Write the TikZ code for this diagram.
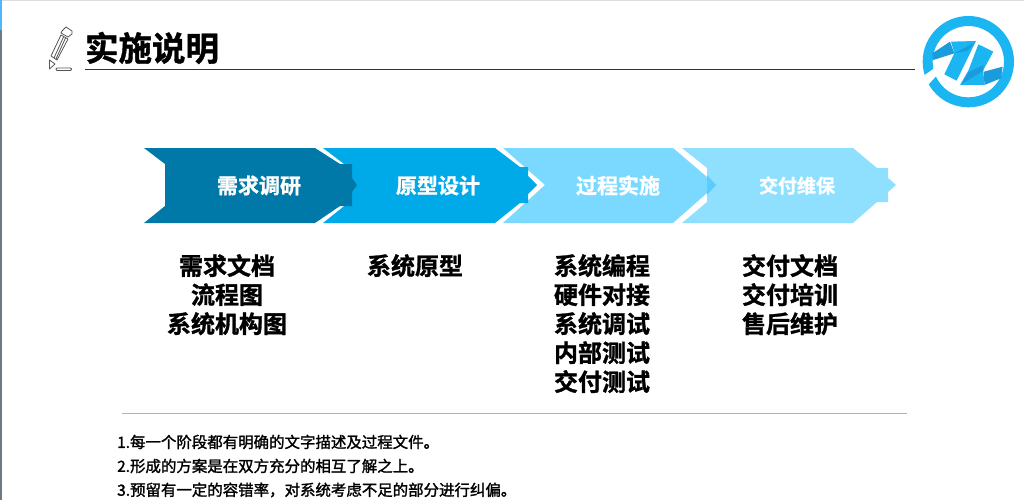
\documentclass[tikz,border=0pt]{standalone}
\usepackage{fontspec}
\setmainfont{Noto Sans CJK SC}
\newfontfamily\heavy{Noto Sans CJK SC Bold}[FakeBold=1.2]
\newfontfamily\notefont{Noto Sans CJK SC}[FakeBold=1.6]
\definecolor{aone}{HTML}{0079A8}
\definecolor{atwo}{HTML}{00A9E8}
\definecolor{athree}{HTML}{7BD9FF}
\definecolor{afour}{HTML}{8FE0FF}
\definecolor{atip}{HTML}{5CCCFF}
\definecolor{logoblue}{HTML}{1BB5F2}
\definecolor{logodark}{HTML}{1A9BDC}
\definecolor{penc}{HTML}{555555}
\definecolor{stripblue}{HTML}{4DB8FF}
\definecolor{stripgrey}{HTML}{707888}
\tikzset{
  head/.style={font=\heavy\fontsize{21}{21}\selectfont,text=white,inner sep=0pt,anchor=center},
  item/.style={font=\heavy\fontsize{24}{29}\selectfont,text=black,inner sep=0pt,anchor=north,align=center},
  note/.style={font=\notefont\fontsize{15.45}{15.45}\selectfont,text=black,inner sep=0pt,anchor=west},
  penline/.style={draw=penc,line width=0.8pt,line join=round}
}
\begin{document}
\begin{tikzpicture}[x=1pt,y=-1pt]
\useasboundingbox (0,0) rectangle (1024,500);
\fill[white] (0,0) rectangle (1024,500);
% window edges
\fill[black!13] (2,0) rectangle (1024,1.2);
\fill[stripblue] (0,0) rectangle (2,30);
\fill[stripgrey] (0,30) rectangle (2,500);
% pencil
\draw[penline] (62,31) -- (66,27) -- (72,31) -- (72,34) -- (68,37) -- (61,33) -- cycle;
\draw[penline] (61,35) -- (51,56) -- (57,60) -- (68,39) -- cycle;
\draw[penline] (63.5,37) -- (54,58);
\draw[penline] (65.5,38) -- (56,59);
\draw[penline] (49.5,60) -- (55,64) -- (49.5,69) -- cycle;
\draw[penline,rounded corners=1pt] (56,68) rectangle (71.5,70.5);
% title
\node[font=\heavy\fontsize{33.5}{33.5}\selectfont,inner sep=0pt] (title) at (152,48) {实施说明};
\draw[draw=black!80,line width=1pt] (85,70) -- (915,70);
% logo
\begin{scope}[shift={(915,10)},x=0.3333pt,y=-0.3333pt]
\fill[logoblue,even odd rule] (160,155) circle[radius=137] (160,155) circle[radius=107];
\fill[white] (26,197) -- (62,172) -- (85,190) -- (62,200) -- (42,222) -- (10,240) -- (5,212) -- cycle;
\fill[logodark] (52,130) -- (105,95) -- (118,130) -- (55,150) -- cycle;
\fill[logoblue] (108,95) -- (183,93) -- (125,212) -- (88,193) -- (118,130) -- cycle;
\fill[logodark] (118,130) -- (180,97) -- (158,122) -- cycle;
\fill[logoblue] (190,103) -- (235,125) -- (205,180) -- (208,225) -- (135,225) -- (160,182) -- cycle;
\fill[logodark] (140,222) -- (160,187) -- (205,165) -- (205,182) -- cycle;
\fill[logodark] (207,185) -- (263,170) -- (258,205) -- (208,225) -- cycle;
\end{scope}
% chevrons
\fill[afour] (682,148) -- (853,148) -- (877,168) -- (888,168) -- (888,178) -- (896,185) -- (888,192) -- (888,202) -- (877,202) -- (853,223) -- (682,223) -- (707,202) -- (707,168) -- cycle;
\fill[athree] (503,148) -- (673,148) -- (707,177) -- (707,193) -- (673,223) -- (503,223) -- (545,185) -- cycle;
\fill[atip] (707,175) -- (716,185) -- (707,195) -- cycle;
\fill[atwo] (323,148) -- (495,148) -- (520,167) -- (528,167) -- (528,176) -- (537,185) -- (528,194) -- (528,203) -- (520,203) -- (495,223) -- (323,223) -- (348,203) -- (348,167) -- cycle;
\fill[aone] (144,148) -- (315,148) -- (340,164) -- (352,164) -- (352,178) -- (357,185) -- (352,192) -- (352,206) -- (340,206) -- (315,223) -- (144,223) -- (165,206) -- (165,164) -- cycle;
% heads
\node[head] (h1) at (259,185.5) {需求调研};
\node[head] (h2) at (438,185.5) {原型设计};
\node[head] (h3) at (618,185.5) {过程实施};
\node[head,font=\heavy\fontsize{19}{19}\selectfont] (h4) at (797,185.5) {交付维保};
% items
\node[item] (i1) at (227,254) {需求文档\\流程图\\系统机构图};
\node[item] (i2) at (415,254) {系统原型};
\node[item] (i3) at (602,254) {系统编程\\硬件对接\\系统调试\\内部测试\\交付测试};
\node[item] (i4) at (790,254) {交付文档\\交付培训\\售后维护};
% divider
\draw[draw=black!30,line width=1pt] (122,413) -- (907,413);
% notes
\node[note] (n1) at (117,442) {1.每一个阶段都有明确的文字描述及过程文件。};
\node[note] (n2) at (117,466) {2.形成的方案是在双方充分的相互了解之上。};
\node[note] (n3) at (117,490) {3.预留有一定的容错率，对系统考虑不足的部分进行纠偏。};
\end{tikzpicture}
\end{document}
